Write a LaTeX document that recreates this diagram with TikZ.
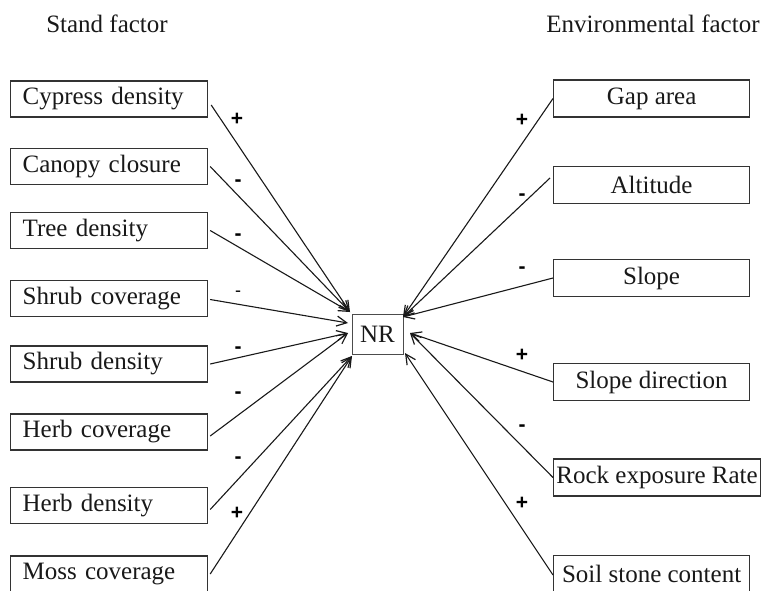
\documentclass[tikz,border=0pt]{standalone}
\usepackage{fontspec}
\setmainfont{Liberation Serif}
\newfontfamily\signfont{Liberation Sans}
\usetikzlibrary{arrows.meta}
\begin{document}
\begin{tikzpicture}[x=1pt,y=-1pt,
  every node/.style={font=\fontsize{25}{28}\selectfont, text=black!90},
  lbox/.style={draw=black!80, line width=1.2pt, minimum height=36pt, text width=173pt, inner xsep=12pt, inner ysep=0pt, align=left, anchor=west},
  rbox/.style={draw=black!80, line width=1.2pt, minimum height=37pt, minimum width=196pt, inner xsep=2pt, inner ysep=0pt, align=center, anchor=west},
  conn/.style={draw=black!90, line width=1.1pt, -{Straight Barb[length=10pt,width=10pt,line width=1.2pt]}},
  sign/.style={font=\signfont\bfseries\fontsize{21}{21}\selectfont, inner sep=0pt, text=black}]
\clip (0,0) rectangle (762,590);
\fill[white] (0,0) rectangle (762,590);
% titles
\node (tstand) at (107,24) {Stand factor};
\node (tenv) at (653,24) {Environmental factor};
% centre
\node[draw=black!70, line width=1pt, minimum width=51pt, minimum height=40pt, inner sep=0pt] (nr) at (377.5,334) {NR};
% left boxes
\node[lbox] (cyp) at (10,99) {Cypress density};
\node[lbox] (can) at (10,166.5) {Canopy closure};
\node[lbox] (tree) at (10,230.5) {Tree density};
\node[lbox] (shc) at (10,298.5) {Shrub coverage};
\node[lbox] (shd) at (10,364) {Shrub density};
\node[lbox] (hec) at (10,432) {Herb coverage};
\node[lbox] (hed) at (10,505.5) {Herb density};
\node[lbox] (mos) at (10,574) {Moss coverage};
% right boxes
\node[rbox] (gap) at (553,98.5) {Gap area};
\node[rbox] (alt) at (553,185) {Altitude};
\node[rbox] (slo) at (553,278) {Slope};
\node[rbox] (sld) at (553,382) {Slope direction};
\node[rbox, minimum width=207pt] (roc) at (553,477.5) {Rock exposure Rate};
\node[rbox] (soi) at (553,574) {Soil stone content};
% target points
\coordinate (tA) at (350,312);
\coordinate (tB) at (348,323);
\coordinate (tC) at (348,333);
\coordinate (tD) at (352,356);
\coordinate (tE) at (403,317);
\coordinate (tF) at (410,333);
\coordinate (tG) at (405,353);
% left connectors
\draw[conn] ([xshift=3pt,yshift=-6pt]cyp.east) -- (tA);
\draw[conn] ([xshift=2pt]can.east) -- (tA);
\draw[conn] ([xshift=2pt]tree.east) -- (tA);
\draw[conn] ([xshift=2pt,yshift=-1pt]shc.east) -- (tB);
\draw[conn] ([xshift=2pt]shd.east) -- (tC);
\draw[conn] ([xshift=2pt,yshift=-4pt]hec.east) -- (tC);
\draw[conn] ([xshift=2pt,yshift=-4pt]hed.east) -- (tD);
\draw[conn] ([xshift=2pt]mos.east) -- (tD);
% right connectors
\draw[conn] (gap.west) -- (tE);
\draw[conn] ([xshift=-3pt,yshift=7pt]alt.west) -- (tE);
\draw[conn] (slo.west) -- (tE);
\draw[conn] (sld.west) -- (tF);
\draw[conn] (roc.west) -- (tF);
\draw[conn] ([yshift=-1pt]soi.west) -- (tG);
% signs
\node[sign] (s1) at (237,119) {+};
\node[sign] (s2) at (238,183) {-};
\node[sign] (s3) at (238,237) {-};
\node[sign, font=\signfont\fontsize{18}{18}\selectfont] (s4) at (238,294) {-};
\node[sign] (s5) at (238,350) {-};
\node[sign] (s6) at (238,395) {-};
\node[sign] (s7) at (238,460) {-};
\node[sign] (s8) at (237,513) {+};
\node[sign] (s9) at (522,120) {+};
\node[sign] (s10) at (522,197) {-};
\node[sign] (s11) at (522,270) {-};
\node[sign] (s12) at (522,355) {+};
\node[sign] (s13) at (522,428) {-};
\node[sign] (s14) at (522,503) {+};
\end{tikzpicture}
\end{document}
